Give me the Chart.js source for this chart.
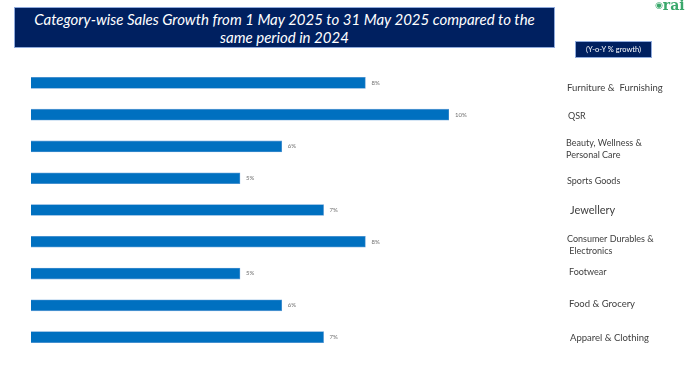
<!DOCTYPE html>
<html>
<head>
<meta charset="utf-8">
<script src="https://cdn.jsdelivr.net/npm/chart.js@4.4.1/dist/chart.umd.min.js"></script>
<style>
  html, body { margin: 0; padding: 0; background: #ffffff; }
  #wrap { position: relative; width: 696px; height: 383px; overflow: hidden; }
  #c { position: absolute; left: 0; top: 0; }
  #titleBox {
    position: absolute; left: 14px; top: 7px; width: 541px; height: 41px;
    background: #002060; border: 1px solid #8faadc; box-sizing: border-box;
    color: #ffffff; font-family: Lato, "Open Sans", sans-serif; font-style: italic;
    font-size: 15px; line-height: 18px; text-align: center; padding-top: 2px;
  }
  #yoy {
    position: absolute; left: 575px; top: 41px; width: 77px; height: 17px;
    background: #002060; border: 1px solid #8faadc; box-sizing: border-box;
    color: #ffffff; font-family: Lato, sans-serif; font-size: 7.5px; line-height: 15px;
    text-align: center;
  }
  #logo {
    position: absolute; left: 655px; top: -3px; color: #3aa86b;
    font-family: "DejaVu Serif", serif; font-weight: bold; font-size: 14px;
  }
  #logo span.icon { font-size: 9px; vertical-align: 2px; }
</style>
</head>
<body>
<div id="wrap">
  <canvas id="c" width="696" height="383"></canvas>
  <div id="titleBox"></div>
  <div id="yoy"></div>
  <div id="logo"><span class="icon">&#9673;</span>rai</div>
</div>
<script>
// ---- data ----
const titleLines = ["Category-wise Sales Growth from 1 May 2025 to 31 May 2025 compared to the", "same period in 2024"];
const unitLabel = "(Y-o-Y % growth)";
const categories = [
  ["Furniture &  Furnishing"],
  ["QSR"],
  ["Beauty, Wellness &", "Personal Care"],
  ["Sports Goods"],
  ["Jewellery"],
  ["Consumer Durables &", " Electronics"],
  ["Footwear"],
  ["Food & Grocery"],
  ["Apparel & Clothing"]
];
const growthPct = [8, 10, 6, 5, 7, 8, 5, 6, 7];

// ---- label styling (not data) ----
const labelDy = [5, 1, 3, 3, 0, 3, -1, -1, 1];
const labelDx = [0, 1, -1, 0, 3, 0, 2, 2, 3];
const labelSize = [9.5, 9, 9, 9, 11, 9, 9, 9.5, 9.5];

document.getElementById('titleBox').innerHTML = titleLines.join('<br>');
document.getElementById('yoy').textContent = unitLabel;

const valueLabels = {
  id: 'valueLabels',
  afterDatasetsDraw(chart) {
    const ctx = chart.ctx;
    const meta = chart.getDatasetMeta(0);
    ctx.save();
    ctx.font = '6px Lato, sans-serif';
    ctx.fillStyle = '#6f6f6f';
    ctx.textAlign = 'left';
    ctx.textBaseline = 'middle';
    meta.data.forEach((el, i) => {
      ctx.fillText(chart.data.datasets[0].data[i] + '%', el.x + 6, el.y);
    });
    // category labels on the right, positioned through the category scale
    const ys = chart.scales.y;
    const x0 = chart.chartArea.right + 118;
    ctx.fillStyle = '#404040';
    chart.data.labels.forEach((lines, i) => {
      const size = labelSize[i];
      const lh = size * 1.35;
      ctx.font = size + 'px Lato, sans-serif';
      const cy = ys.getPixelForValue(i) + labelDy[i];
      const startY = cy - (lines.length - 1) * lh / 2;
      lines.forEach((t, j) => ctx.fillText(t, x0 + labelDx[i], startY + j * lh));
    });
    ctx.restore();
  }
};

new Chart(document.getElementById('c'), {
  type: 'bar',
  data: {
    labels: categories,
    datasets: [{
      data: growthPct,
      backgroundColor: '#0070c0',
      borderColor: '#5b9bd5',
      borderWidth: 0.8,
      barThickness: 11
    }]
  },
  options: {
    indexAxis: 'y',
    responsive: false,
    animation: false,
    layout: { padding: { left: 31, top: 67, bottom: 30, right: 247 } },
    plugins: { legend: { display: false }, tooltip: { enabled: false } },
    scales: {
      x: { display: false, min: 0, max: 10 },
      y: { display: false }
    }
  },
  plugins: [valueLabels]
});
</script>
</body>
</html>
